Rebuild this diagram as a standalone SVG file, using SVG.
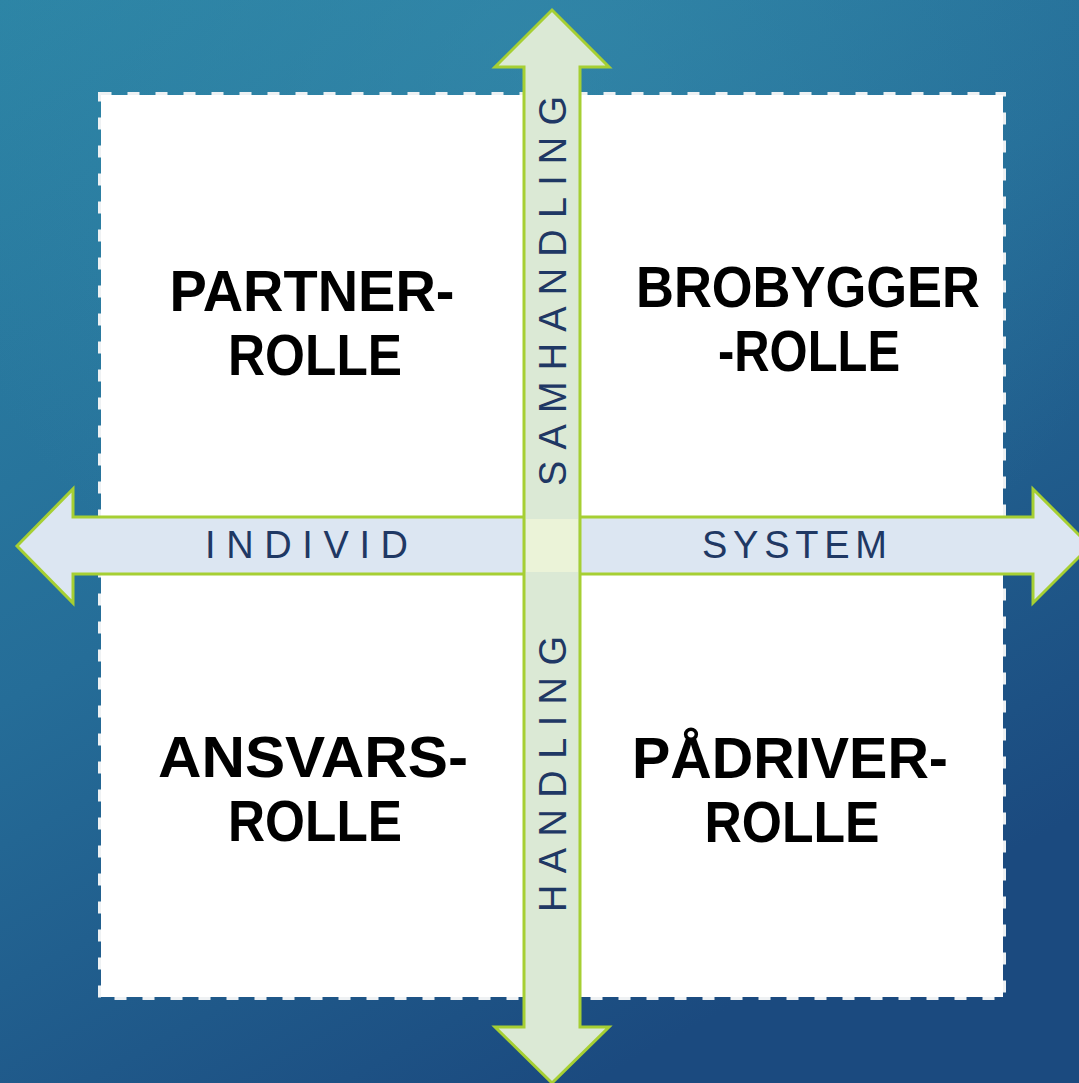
<svg xmlns="http://www.w3.org/2000/svg" width="1079" height="1083" viewBox="0 0 1079 1083">
  <defs>
    <linearGradient id="bg" x1="0" y1="0" x2="0.55" y2="1">
      <stop offset="0" stop-color="#2c84a5"/>
      <stop offset="0.5" stop-color="#256d98"/>
      <stop offset="1" stop-color="#1b4a7f"/>
    </linearGradient>
    <radialGradient id="glow" cx="0.5" cy="0.05" r="0.6">
      <stop offset="0" stop-color="#3a93b0" stop-opacity="0.45"/>
      <stop offset="1" stop-color="#3a93b0" stop-opacity="0"/>
    </radialGradient>
    <style>
      .role { font-family: "Liberation Sans", Arial, sans-serif; font-weight: bold; font-size: 57px; fill: #000; text-anchor: middle; }
      .axis { font-family: "Liberation Sans", Arial, sans-serif; font-size: 38px; fill: #1f3864; }
      .arrow { stroke: #a6cf33; stroke-width: 3; stroke-linejoin: miter; }
    </style>
  </defs>

  <rect width="1079" height="1083" fill="url(#bg)"/>
  <rect width="1079" height="1083" fill="url(#glow)"/>

  <g id="board">
    <rect x="101" y="95" width="902" height="902" fill="#ffffff"/>
    <rect x="99.5" y="93.5" width="905" height="905" fill="none" stroke="#eef1f3" stroke-width="3" stroke-dasharray="12 16"/>
  </g>

  <g id="connectors">
    <polygon class="arrow" fill="#dce6f2" points="17,546 73,489 73,517 1033,517 1033,489 1090,546 1033,603 1033,574 73,574 73,603"/>
    <polygon class="arrow" fill="#dbe9d5" points="552,10 609,67 580,67 580,1027 609,1027 552,1083 495,1027 524,1027 524,67 495,67"/>
    <rect x="526" y="519" width="52" height="53" fill="#ebf3d8"/>
  </g>

  <g id="axis-individ">
    <text class="axis" x="205" y="558" textLength="203" lengthAdjust="spacing">INDIVID</text>
  </g>
  <g id="axis-system">
    <text class="axis" x="702" y="558" textLength="185" lengthAdjust="spacing">SYSTEM</text>
  </g>
  <g id="axis-samhandling">
    <text class="axis" transform="translate(566,486) rotate(-90)" textLength="390" lengthAdjust="spacing">SAMHANDLING</text>
  </g>
  <g id="axis-handling">
    <text class="axis" transform="translate(566,912) rotate(-90)" textLength="276" lengthAdjust="spacing">HANDLING</text>
  </g>

  <g id="partnerrolle">
    <text class="role" x="312" y="311" textLength="285" lengthAdjust="spacingAndGlyphs">PARTNER-</text>
    <text class="role" x="315" y="375" textLength="174" lengthAdjust="spacingAndGlyphs">ROLLE</text>
  </g>
  <g id="brobyggerrolle">
    <text class="role" x="808" y="307" textLength="344" lengthAdjust="spacingAndGlyphs">BROBYGGER</text>
    <text class="role" x="809" y="371" textLength="182" lengthAdjust="spacingAndGlyphs">-ROLLE</text>
  </g>
  <g id="ansvarsrolle">
    <text class="role" x="313" y="777" textLength="310" lengthAdjust="spacingAndGlyphs">ANSVARS-</text>
    <text class="role" x="315" y="841" textLength="174" lengthAdjust="spacingAndGlyphs">ROLLE</text>
  </g>
  <g id="padriverrolle">
    <text class="role" x="790" y="778" textLength="316" lengthAdjust="spacingAndGlyphs">PÅDRIVER-</text>
    <text class="role" x="792" y="842" textLength="175" lengthAdjust="spacingAndGlyphs">ROLLE</text>
  </g>
</svg>
